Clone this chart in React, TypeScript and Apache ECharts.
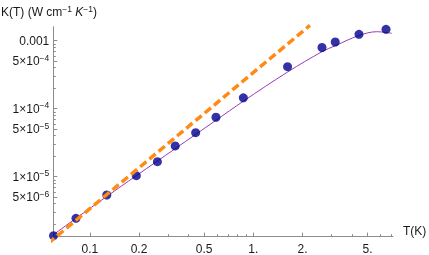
import React, { useEffect, useRef } from 'react';
import * as echarts from 'echarts';

// Measured data points (T in K, K in W cm^-1 K^-1)
const T_DATA = [0.06, 0.0823, 0.127, 0.1925, 0.259, 0.333, 0.444, 0.591, 0.869, 1.62, 2.63, 3.17, 4.43, 6.48];
const K_DATA = [1.356e-6, 2.44e-6, 5.38e-6, 1.035e-5, 1.66e-5, 2.83e-5, 4.44e-5, 7.48e-5, 1.445e-4, 4.15e-4, 7.94e-4, 9.57e-4, 1.24e-3, 1.47e-3];

// Fitted curve (purple)
const FIT_T = [0.0598, 0.0823, 0.1269, 0.1925, 0.3333, 0.4443, 0.5909, 0.8687, 1.623, 2.632, 3.173, 4.43, 5.684, 7.02];
const FIT_K = [1.40e-6, 2.44e-6, 5.12e-6, 1.035e-5, 2.59e-5, 4.19e-5, 6.75e-5, 1.288e-4, 3.47e-4, 6.89e-4, 8.44e-4, 1.192e-3, 1.355e-3, 1.286e-3];

// Orange dashed reference line (end points)
const LINE_T = [0.0555, 2.22];
const LINE_K = [1.04e-6, 1.68e-3];

// Axes
const X_RANGE = [0.0598, 7.15];
const Y_RANGE = [1.315e-6, 1.606e-3];
const X_MAJOR = [0.1, 0.2, 0.5, 1, 2, 5];
const X_LABELS = ['0.1', '0.2', '0.5', '1.', '2.', '5.'];
const X_MINOR = [0.3, 0.4, 0.6, 0.7, 0.8, 0.9, 3, 4, 6, 7];
const Y_MAJOR = [5e-6, 1e-5, 5e-5, 1e-4, 5e-4, 1e-3];
const Y_LABELS = ['5×10^−6', '1×10^−5', '5×10^−5', '1×10^−4', '5×10^−4', '0.001'];
const Y_MINOR = [2e-6, 3e-6, 4e-6, 6e-6, 7e-6, 8e-6, 9e-6, 2e-5, 3e-5, 4e-5, 6e-5, 7e-5, 8e-5, 9e-5, 2e-4, 3e-4, 4e-4, 6e-4, 7e-4, 8e-4, 9e-4];

const lg = Math.log10;
const FONT = 'Liberation Sans, Arial, sans-serif';
const AXIS_COLOR = '#8c8c8c';
const TEXT_COLOR = '#1a1a1a';

function nearestIndex(arr: number[], v: number) {
  let best = 0;
  let bd = Infinity;
  arr.forEach((a, i) => {
    const d = Math.abs(lg(a) - v);
    if (d < bd) { bd = d; best = i; }
  });
  return best;
}

function toRich(label: string) {
  const parts = label.split('^');
  if (parts.length === 1) return `{b|${parts[0]}}`;
  return `{b|${parts[0]}}{s|${parts[1]}}`;
}

const richStyles = {
  b: { fontSize: 12, lineHeight: 16, color: TEXT_COLOR, fontFamily: FONT },
  s: { fontSize: 8.5, lineHeight: 8, verticalAlign: 'top', color: TEXT_COLOR, fontFamily: FONT },
};

export default function App() {
  const ref = useRef<HTMLDivElement>(null);
  useEffect(() => {
    if (!ref.current) return;
    const chart = echarts.init(ref.current, null, { renderer: 'svg' });
    const option: any = {
      animation: false,
      grid: { show: false, left: 53.3, right: 36, top: 26.7, bottom: 18.4, containLabel: false, outerBoundsMode: 'none' },
      xAxis: [
        {
          type: 'value', position: 'bottom',
          min: lg(X_RANGE[0]), max: lg(X_RANGE[1]),
          axisLine: { show: true, onZero: false, lineStyle: { color: AXIS_COLOR, width: 1 } },
          axisTick: { show: true, inside: true, length: 4, customValues: X_MAJOR.map(lg), lineStyle: { color: AXIS_COLOR } },
          axisLabel: {
            show: true, customValues: X_MAJOR.map(lg), margin: 6, lineHeight: 12,
            color: TEXT_COLOR, fontSize: 12, fontFamily: FONT,
            formatter: (v: number) => X_LABELS[nearestIndex(X_MAJOR, v)],
          },
          splitLine: { show: false },
        },
        {
          type: 'value', position: 'bottom',
          min: lg(X_RANGE[0]), max: lg(X_RANGE[1]),
          axisLine: { show: false, onZero: false },
          axisTick: { show: true, inside: true, length: 2.5, customValues: X_MINOR.map(lg), lineStyle: { color: AXIS_COLOR } },
          axisLabel: { show: false },
          splitLine: { show: false },
        },
      ],
      yAxis: [
        {
          type: 'value', position: 'left',
          min: lg(Y_RANGE[0]), max: lg(Y_RANGE[1]),
          axisLine: { show: true, onZero: false, lineStyle: { color: AXIS_COLOR, width: 1 } },
          axisTick: { show: true, inside: true, length: 4, customValues: Y_MAJOR.map(lg), lineStyle: { color: AXIS_COLOR } },
          axisLabel: {
            show: true, customValues: Y_MAJOR.map(lg), margin: 4,
            formatter: (v: number) => toRich(Y_LABELS[nearestIndex(Y_MAJOR, v)]),
            rich: richStyles,
          },
          splitLine: { show: false },
        },
        {
          type: 'value', position: 'left',
          min: lg(Y_RANGE[0]), max: lg(Y_RANGE[1]),
          axisLine: { show: false, onZero: false },
          axisTick: { show: true, inside: true, length: 2.5, customValues: Y_MINOR.map(lg), lineStyle: { color: AXIS_COLOR } },
          axisLabel: { show: false },
          splitLine: { show: false },
        },
      ],
      series: [
        {
          type: 'line', name: 'fit', xAxisIndex: 0, yAxisIndex: 0,
          data: FIT_T.map((t, i) => [lg(t), lg(FIT_K[i])]),
          showSymbol: false, smooth: 0.35,
          lineStyle: { color: '#9a3cb0', width: 1 },
          z: 2,
        },
        {
          type: 'scatter', name: 'data', xAxisIndex: 0, yAxisIndex: 0,
          data: T_DATA.map((t, i) => [lg(t), lg(K_DATA[i])]),
          symbol: 'circle', symbolSize: 9,
          itemStyle: { color: '#00008f' },
          z: 3,
        },
        {
          type: 'line', name: 'T2', xAxisIndex: 0, yAxisIndex: 0,
          data: LINE_T.map((t, i) => [lg(t), lg(LINE_K[i])]),
          showSymbol: false, clip: false,
          lineStyle: { color: '#ff8a14', width: 3.5, type: [8, 4] },
          z: 4,
        },
      ],
      graphic: [
        {
          type: 'text', left: 1, top: 4,
          style: {
            text: '{a|K(T) (W cm}{s|−1} {i|K}{s|−1}{a|)}',
            rich: {
              a: { fontSize: 12, lineHeight: 16, fill: TEXT_COLOR, fontFamily: FONT },
              i: { fontSize: 12, lineHeight: 16, fill: TEXT_COLOR, fontFamily: FONT, fontStyle: 'italic' },
              s: { fontSize: 8.5, lineHeight: 8, verticalAlign: 'top', fill: TEXT_COLOR, fontFamily: FONT },
            },
          },
        },
        {
          type: 'text', left: 403, top: 225,
          style: { text: 'T(K)', fontSize: 12, fontFamily: FONT, fill: TEXT_COLOR },
        },
      ],
    };
    chart.setOption(option);
    return () => chart.dispose();
  }, []);
  return <div ref={ref} style={{ position: 'fixed', left: 0, top: 0, width: 429, height: 255 }} />;
}
